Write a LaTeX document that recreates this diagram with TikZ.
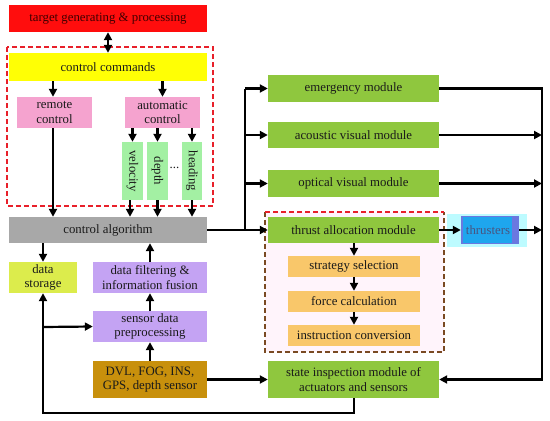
\documentclass[tikz,border=0pt]{standalone}
\usepackage{fontspec}
\setmainfont{Liberation Serif}
\usetikzlibrary{arrows.meta}
\definecolor{cRed}{HTML}{FF0D0D}
\definecolor{cYellow}{HTML}{FFFF05}
\definecolor{cPink}{HTML}{F5A3CF}
\definecolor{cLGreen}{HTML}{A3F0A3}
\definecolor{cGray}{HTML}{A8A8A8}
\definecolor{cStore}{HTML}{DCEC4C}
\definecolor{cPurple}{HTML}{C4A3F3}
\definecolor{cGold}{HTML}{C8900C}
\definecolor{cGreen}{HTML}{8FC73E}
\definecolor{cOrange}{HTML}{F9C76A}
\definecolor{cBlue}{HTML}{1EA6EE}
\definecolor{cBlueEdge}{HTML}{6A78E0}
\definecolor{cGlow}{HTML}{BDFBFF}
\definecolor{cBrown}{HTML}{7A4A22}
\definecolor{cDashRed}{HTML}{E8202A}
\definecolor{cPaleFill}{HTML}{FFF4FB}
\definecolor{cText}{HTML}{1A1A1A}
\tikzset{
  box/.style={inner sep=0pt, align=center, text=cText,
    font=\fontsize{12.8}{14.5}\selectfont},
  arr/.style={line width=2.2pt, -{Triangle[length=8pt,width=8pt]}},
  dblarr/.style={line width=2.2pt, {Triangle[length=8pt,width=8pt]}-{Triangle[length=8pt,width=8pt]}},
  ln/.style={line width=2.2pt},
  dbox/.style={line width=1.8pt, dash pattern=on 5pt off 3pt},
}
\begin{document}
\begin{tikzpicture}[x=1pt,y=-1pt]
\useasboundingbox (0,0) rectangle (550,421);
\fill[white] (0,0) rectangle (550,421);

% dashed group frames
\draw[dbox, cDashRed] (7,47) rectangle (213,206);
\fill[cPaleFill] (265,212) rectangle (444,352);
\draw[dbox, cBrown] (265,212) -- (265,352) -- (444,352) -- (444,212);
\draw[dbox, cDashRed] (265,212) -- (444,212);

% left column
\node[box, fill=cRed, minimum width=198pt, minimum height=27pt, text=black!75!red] (target) at (108,18.5) {target generating \& processing};
\node[box, fill=cYellow, minimum width=198pt, minimum height=28pt] (cc) at (108,67) {control commands};
\node[box, fill=cPink, minimum width=75pt, minimum height=31pt] (remote) at (54.5,112.5) {remote\\control};
\node[box, fill=cPink, minimum width=75pt, minimum height=31pt] (auto) at (162.5,112.5) {automatic\\control};
\node[box, fill=cLGreen, minimum width=21pt, minimum height=58pt] (vel) at (132.5,171) {};
\node[box, rotate=-90] at (vel) {velocity};
\node[box, fill=cLGreen, minimum width=21pt, minimum height=58pt] (dep) at (157.5,171) {};
\node[box, rotate=-90] at (dep) {depth};
\node[box, fill=cLGreen, minimum width=20pt, minimum height=58pt] (head) at (192,171) {};
\node[box, rotate=-90] at (head) {heading};
\node[box] (dots) at (174.5,168) {...};
\node[box, fill=cGray, minimum width=198pt, minimum height=26pt] (ca) at (108,230) {control algorithm};
\node[box, fill=cStore, minimum width=68pt, minimum height=31pt] (ds) at (43,277.5) {data\\storage};
\node[box, fill=cPurple, minimum width=114pt, minimum height=31pt] (df) at (150,277.5) {data filtering \&\\information fusion};
\node[box, fill=cPurple, minimum width=114pt, minimum height=31pt] (sp) at (150,326.5) {sensor data\\preprocessing};
\node[box, fill=cGold, minimum width=114pt, minimum height=37pt] (dvl) at (150,379.5) {DVL, FOG, INS,\\GPS, depth sensor};

% right column
\node[box, fill=cGreen, minimum width=171pt, minimum height=27pt] (em) at (353.5,88.5) {emergency module};
\node[box, fill=cGreen, minimum width=171pt, minimum height=26pt] (ac) at (353.5,135) {acoustic visual module};
\node[box, fill=cGreen, minimum width=171pt, minimum height=27pt] (op) at (353.5,183.5) {optical visual module};
\node[box, fill=cGreen, minimum width=171pt, minimum height=26pt] (ta) at (353.5,230) {thrust allocation module};
\node[box, fill=cOrange, minimum width=132pt, minimum height=21pt] (ss) at (354,266.5) {strategy selection};
\node[box, fill=cOrange, minimum width=132pt, minimum height=21pt] (fc) at (354,301.5) {force calculation};
\node[box, fill=cOrange, minimum width=132pt, minimum height=21pt] (ic) at (354,335.5) {instruction conversion};
\node[box, fill=cGreen, minimum width=171pt, minimum height=37pt] (si) at (353.5,379.5) {state inspection module of\\actuators and sensors};

% thrusters
\fill[cGlow] (447,214) rectangle (527,247);
\node[box, fill=cBlueEdge, minimum width=58pt, minimum height=28pt] (th) at (490,230) {};
\fill[cBlue] (463,217) rectangle (512,243);
\node[box, text=black!70!cyan!60!blue] at (488,230) {thrusters};

% coordinates
\coordinate (busT) at (245,88.5);
\coordinate (busB) at (245,230);
\coordinate (rT) at (542,88.5);
\coordinate (rB) at (542,379.5);
\coordinate (lbT) at (43,327);
\coordinate (lbB) at (43,413);
\coordinate (mbB) at (354,413);

% connectors left
\draw[dblarr] (target.south) -- (cc.north);
\draw[arr] (cc.south -| 53,0) -- (remote.north -| 53,0);
\draw[arr] (cc.south -| auto) -- (auto.north);
\draw[arr] (remote.south -| 53,0) -- (ca.north -| 53,0);
\draw[arr] (auto.south -| vel) -- (vel.north);
\draw[arr] (auto.south -| dep) -- (dep.north);
\draw[arr] (auto.south -| head) -- (head.north);
\draw[arr] (vel.south -| 130,0) -- (ca.north -| 130,0);
\draw[arr] (dep.south) -- (ca.north -| dep);
\draw[arr] (head.south) -- (ca.north -| head);
\draw[arr] (ca.south -| ds) -- (ds.north);
\draw[arr] (df.north) -- (ca.south -| df);
\draw[arr] (sp.north) -- (df.south);
\draw[arr] (dvl.north) -- (sp.south);
\draw[arr] (dvl.east) -- (si.west);
\draw[arr] (lbT) -- (sp.west);
\draw[arr] (si.south -| mbB) -- (mbB) -- (lbB) -- (ds.south);

% connectors right
\draw[arr] (ca.east) -- (ta.west);
\draw[ln] (busB) -- (busT);
\draw[arr] (busT) -- (em.west);
\draw[arr] (busB |- ac) -- (ac.west);
\draw[arr] (busB |- op) -- (op.west);
\draw[arr] (em.east) -- (rT) -- (rB) -- (si.east);
\draw[arr] (ac.east) -- (ac.east -| rT);
\draw[arr] (op.east) -- (op.east -| rT);
\draw[arr] (ta.east) -- (th.west);
\draw[arr] (th.east) -- (th.east -| rT);
\draw[arr] (ta.south -| ss) -- (ss.north);
\draw[arr] (ss.south) -- (fc.north);
\draw[arr] (fc.south) -- (ic.north);
\end{tikzpicture}
\end{document}
